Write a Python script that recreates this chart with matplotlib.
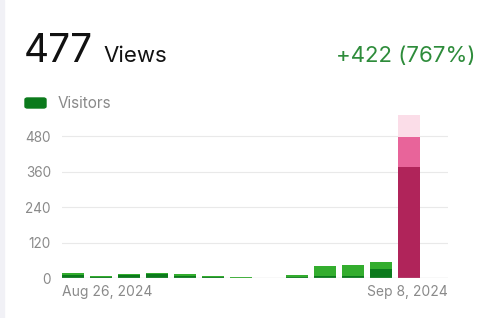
import datetime as dt
import matplotlib
matplotlib.use('Agg')
import matplotlib.pyplot as plt
import matplotlib.patches as mpatches
import numpy as np

plt.rcParams['font.family'] = ['Inter', 'DejaVu Sans']

# daily stats, Aug 26 .. Sep 8 2024
start = dt.date(2024, 8, 26)
views = [16, 8, 12, 16, 14, 6, 2, 0, 11, 42, 44, 55, 477, 0]
visitors = [9, 5, 11, 15, 6, 3, 1, 0, 2, 8, 7, 32, 374, 0]
highlight = 12          # selected day
total_views = 477
change = 422
change_pct = 767
yticks = [0, 120, 240, 360, 480]

days = [start + dt.timedelta(days=i) for i in range(len(views))]
x = np.arange(len(views))
width = 22 / 28
ytop = 551

fig = plt.figure(figsize=(4.99, 3.18), dpi=100)
fig.patches.append(mpatches.Rectangle((0, 0), 4 / 499, 1, transform=fig.transFigure,
                                      color='#f1f1f6', zorder=0))

ax = fig.add_axes([62 / 499, 1 - 278 / 318, 386 / 499, 163 / 318])
ax.set_xlim(-width / 2, len(views) - 1 + width / 2)
ax.set_ylim(0, ytop)

v_col = ['#e8649a' if i == highlight else '#33ad2e' for i in x]
u_col = ['#b0245a' if i == highlight else '#0b7a1c' for i in x]
ax.bar(x[highlight], ytop, width=width, color='#fbdde8', zorder=2)
ax.bar(x, views, width=width, color=v_col, zorder=3)
ax.bar(x, visitors, width=width, color=u_col, zorder=4)

for y in yticks[1:]:
    ax.axhline(y, color='#e9e9e9', lw=0.8, zorder=1)
ax.axhline(0, color='#cfcfcf', lw=0.9, zorder=5)

ax.set_yticks(yticks)
ax.set_yticklabels([str(t) for t in yticks])
ax.tick_params(axis='y', length=0, pad=8, labelsize=9.8, labelcolor='#8a8a8a')
ax.set_xticks([])
for s in ax.spines.values():
    s.set_visible(False)

def fmt(d):
    return d.strftime('%b ') + str(d.day) + d.strftime(', %Y')

ax.text(0, -0.045, fmt(days[0]), transform=ax.transAxes, ha='left', va='top',
        fontsize=10, color='#8a8a8a')
ax.text(1, -0.045, fmt(days[-1]), transform=ax.transAxes, ha='right', va='top',
        fontsize=10, color='#8a8a8a')

# header
fig.text(24 / 499, 1 - 62 / 318, str(total_views), fontsize=28, color='#111111',
         ha='left', va='baseline')
fig.text(103 / 499, 1 - 62 / 318, 'Views', fontsize=16, color='#111111',
         ha='left', va='baseline')
fig.text(475 / 499, 1 - 62 / 318, '+%d (%d%%)' % (change, change_pct), fontsize=16,
         color='#2e8c3b', ha='right', va='baseline')

fig.patches.append(mpatches.FancyBboxPatch((25 / 499, 1 - 108 / 318), 21 / 499, 10 / 318,
                                           boxstyle='round,pad=0,rounding_size=0.005',
                                           transform=fig.transFigure, color='#0b7a1c'))
fig.text(58 / 499, 1 - 103 / 318, 'Visitors', fontsize=11, color='#8a8a8a',
         ha='left', va='center')

fig.savefig('out.png', dpi=100)
